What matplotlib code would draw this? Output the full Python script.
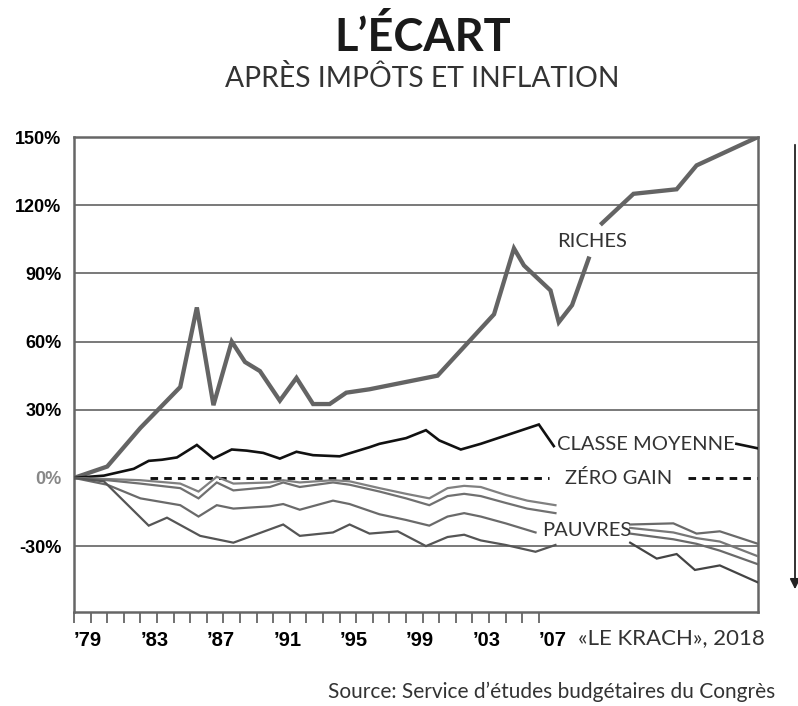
import numpy as np
import matplotlib
matplotlib.use("Agg")
from matplotlib import pyplot as plt

# year positions and % change since 1979 (nan = break in the line)
riches_x = [1979, 1981.0, 1983.0, 1985.4, 1986.4, 1987.4, 1988.5, 1989.3, 1990.2, 1991.4, 1992.4,
            1993.4, 1994.4, 1995.4, 1996.8, 2000.9, 2004.3, 2005.5, 2006.1, 2007.7, 2008.2, 2009.0,
            2010.0, np.nan, 2010.8, 2012.7, 2015.3, 2016.5, 2020.2]
riches_y = [0, 5, 22, 40, 75, 32, 60, 51, 47, 34, 44,
            32.5, 32.5, 37.5, 39, 45, 72, 101, 93.5, 82.5, 68.5, 76,
            96.5, np.nan, 112, 125, 127, 137.5, 150]

moyenne_x = [1979, 1980.8, 1982.6, 1983.5, 1984.3, 1985.2, 1986.4, 1987.4, 1988.5, 1989.4, 1990.4,
             1991.4, 1992.4, 1993.4, 1995.0, 1996.8, 1997.4, 1999.0, 2000.2, 2001.0, 2002.3, 2003.5,
             2007.0, 2007.9, np.nan, 2018.9, 2020.2]
moyenne_y = [0, 1, 4, 7.5, 8, 9, 14.5, 8.5, 12.5, 12, 11,
             8.5, 11.5, 10, 9.5, 13.5, 15, 17.5, 21, 16.5, 12.5, 15,
             23.5, 14, np.nan, 15, 13]

pauvres_x = [1979, 1981.0, 1983.0, 1985.4, 1986.5, 1987.6, 1988.6, 1990.8, 1991.6, 1992.6, 1994.6,
             1995.6, 1997.4, 1999.0, 2000.4, 2001.5, 2002.5, 2003.5, 2005.0, 2006.3, 2008.0]
pauvres_1 = [0, -0.5, -1, -2.5, -6, 0.5, -2.5, -2, -1, -2, -1,
             -1.5, -4.5, -7, -9, -4.5, -3.5, -4, -7.5, -10, -12]
pauvres_2 = [0, -1, -2.5, -4.5, -9, -2, -5.5, -4, -2, -4, -2,
             -3, -6, -9, -12, -8, -7, -8, -11, -13.5, -15.5]
pauvres_3_x = [1979, 1981.0, 1983.0, 1985.4, 1986.5, 1987.6, 1988.6, 1990.8, 1991.6, 1992.6, 1994.6,
               1995.6, 1997.4, 1999.0, 2000.4, 2001.5, 2002.5, 2003.5, 2005.0, 2006.8]
pauvres_3 = [0, -3, -9, -12, -17, -12, -13.5, -12.5, -11.5, -14, -10,
             -11.5, -16, -18.5, -21, -17, -15.5, -17, -20, -24]
pauvres_4_x = [1979, 1980.8, 1983.5, 1984.6, 1986.6, 1988.6, 1991.6, 1992.6, 1994.6, 1995.6,
               1996.8, 1998.5, 2000.2, 2001.5, 2002.5, 2003.5, 2005.0, 2006.8, 2008.0]
pauvres_4 = [0, -1.5, -21, -17.5, -25.5, -28.5, -20.5, -25.5, -24, -20.5,
             -24.5, -23.5, -30, -26, -25, -27.5, -29.5, -32.5, -29.5]

# later years, right of the labels
fin_x = [2012.5, 2015.1, 2016.5, 2017.9, 2020.2]
fin_1 = [-20.5, -20, -24.5, -23.5, -29]
fin_2 = [-22, -24, -26.5, -28, -34.5]
fin_3 = [-24.5, -27, -29, -32, -38]
fin_4_x = [2012.5, 2014.1, 2015.3, 2016.4, 2017.9, 2020.2]
fin_4 = [-28.5, -35.5, -33.5, -40.5, -38.5, -46]

year_ticks = [1979, 1983, 1987, 1991, 1995, 1999, 2003, 2007]
year_labels = ["’79", "’83", "’87", "’91", "’95", "’99", "’03", "’07"]
pct_ticks = [-30, 0, 30, 60, 90, 120, 150]

fig = plt.figure(figsize=(7.98, 7.06), dpi=100)
ax = fig.add_axes([74 / 798, 1 - 612 / 706, 684 / 798, 475 / 706])
ax.set_xlim(1979, 2020.2)
ax.set_ylim(-59, 150)

for v in [-30, 30, 60, 90, 120]:
    ax.axhline(v, color="#555555", lw=1.1, zorder=1)

for s in ax.spines.values():
    s.set_color("#666666")
    s.set_linewidth(1.8)

grey = "#6a6a6a"
lines_kw = dict(solid_joinstyle="miter", zorder=3)
ax.plot(riches_x, riches_y, color="#646464", lw=3.1, **lines_kw)
ax.plot(moyenne_x, moyenne_y, color="#111111", lw=1.9, **lines_kw)
ax.plot(pauvres_x, pauvres_1, color="#808080", lw=1.6, **lines_kw)
ax.plot(pauvres_x, pauvres_2, color="#707070", lw=1.6, **lines_kw)
ax.plot(pauvres_3_x, pauvres_3, color=grey, lw=1.6, **lines_kw)
ax.plot(pauvres_4_x, pauvres_4, color="#555555", lw=1.6, **lines_kw)
ax.plot(fin_x, fin_1, color=grey, lw=1.6, **lines_kw)
ax.plot(fin_x, fin_2, color="#777777", lw=1.6, **lines_kw)
ax.plot(fin_x, fin_3, color=grey, lw=1.6, **lines_kw)
ax.plot(fin_4_x, fin_4, color="#444444", lw=1.6, **lines_kw)

# zero-gain reference
dash = (0, (2.6, 2.1))
ax.plot([1983.6, 2007.6], [0, 0], color="#111111", lw=2.1, ls=dash, zorder=2)
ax.plot([2016.0, 2020.2], [0, 0], color="#111111", lw=2.1, ls=dash, zorder=2)

ax.set_yticks(pct_ticks)
ax.set_yticklabels([f"{v}%" for v in pct_ticks], fontfamily="Liberation Sans",
                   fontweight="bold", fontsize=13)
ax.get_yticklabels()[1].set_color("#888888")
ax.tick_params(axis="y", length=0, pad=9)

ax.set_xticks(range(1979, 2008), minor=True)
ax.set_xticks(year_ticks)
ax.set_xticklabels(year_labels, fontfamily="Liberation Sans", fontweight="bold",
                   fontsize=14.5, ha="left")
ax.tick_params(axis="x", which="both", direction="out", length=8, width=1.3,
               color="#666666", pad=6)

lbl = dict(fontfamily="Lato", fontsize=14.5, color="#333333", va="center", zorder=4)
ax.text(2008.1, 104, "RICHES", **lbl)
ax.text(2008.1, 14.5, "CLASSE MOYENNE", **lbl)
ax.text(2008.6, 0, "ZÉRO GAIN", **lbl)
ax.text(2007.2, -23, "PAUVRES", **lbl)

fig.text(0.530, 0.947, "L’ÉCART", ha="center", va="center", fontfamily="Lato",
         fontweight="bold", fontsize=32.5, color="#1a1a1a")
fig.text(0.529, 0.889, "APRÈS IMPÔTS ET INFLATION", ha="center", va="center",
         fontfamily="Lato", fontsize=20.3, color="#333333")
fig.text(765 / 798, 1 - 638 / 706, "«LE KRACH», 2018", ha="right", va="center",
         fontfamily="Lato", fontsize=16, color="#333333")
fig.text(775 / 798, 1 - 692 / 706, "Source: Service d’études budgétaires du Congrès",
         ha="right", va="center", fontfamily="Lato", fontsize=15, color="#333333")

# downward arrow on the right
fig.add_artist(matplotlib.patches.FancyArrowPatch(
    (795 / 798, 1 - 142 / 706), (795 / 798, 1 - 592 / 706), transform=fig.transFigure,
    arrowstyle="-|>,head_length=6,head_width=3", color="#222222", lw=1.3))

fig.savefig("out.png", dpi=100)
